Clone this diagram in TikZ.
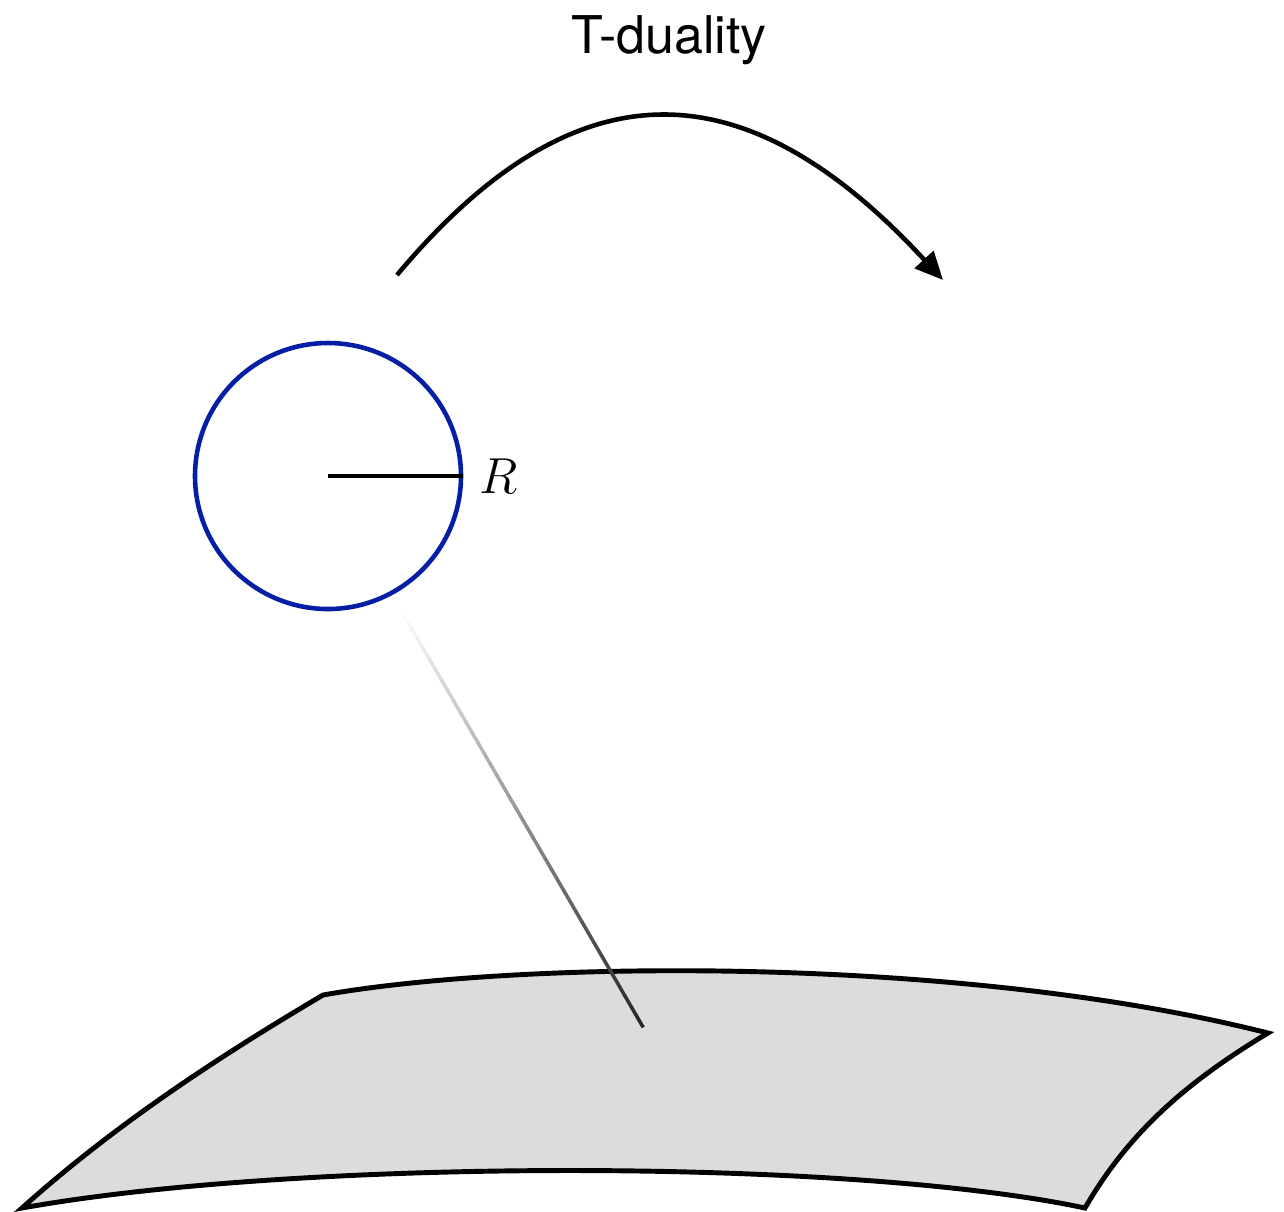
\documentclass[tikz,border=0pt]{standalone}
\usepackage{amsmath}
\usepackage{xcolor}
\usepackage{fontspec}
\setsansfont{TeX Gyre Heros}
\usepackage{tikz}
\usetikzlibrary{calc, arrows.meta, positioning}
\definecolor{ringblue}{RGB}{4,30,165}
\definecolor{sheetgray}{RGB}{220,220,220}
\tikzset{
  ring/.style={circle,draw=ringblue,line width=1.3pt,minimum size=2.66cm,inner sep=0pt},
  sheet/.style={draw=black,fill=sheetgray,line width=1.4pt,line join=miter},
  dualarrow/.style={-{Triangle[length=2.8mm,width=2.5mm]}, line width=1.3pt}
}

\begin{document}
\begin{tikzpicture}
  \useasboundingbox (0,0) rectangle (12.84,-12.11);
  \node[font=\sffamily\fontsize{14.8}{17}\selectfont, anchor=base] (title) at (6.69,-0.53) {T-duality};
  \coordinate (from) at (3.97,-2.75);
  \coordinate (to) at (9.43,-2.80);
  \draw[dualarrow] (from) .. controls (5.74,-0.635) and (7.43,-0.635) .. (to);
  % the compact circle
  \node[ring] (S) at (3.28,-4.76) {};
  \draw[line width=1.3pt] (S.center) -- (S.east);
  \node[right=0.4mm of S.east, font=\fontsize{14.5}{17}\selectfont] (R) {$R$};
  % the brane
  \coordinate (TL) at (3.23,-9.95);
  \coordinate (TR) at (12.68,-10.33);
  \coordinate (BR) at (10.85,-12.08);
  \coordinate (BL) at (0.22,-12.08);
  \draw[sheet] (TL) .. controls (5.2,-9.6) and (9.6,-9.55) .. (TR)
    .. controls (11.9,-10.8) and (11.3,-11.3) .. (BR)
    .. controls (8.5,-11.58) and (3,-11.58) .. (BL)
    .. controls (1.2,-11.2) and (2.3,-10.5) .. cycle;
  % fading string
  \coordinate (top) at (3.98,-6.05);
  \coordinate (foot) at (6.43,-10.27);
  \foreach \i in {0,...,39} {
    \pgfmathsetmacro{\shade}{\i*85/39}
    \draw[line width=1pt, color=black!\shade]
      ($(top)!\i/40!(foot)$) -- ($(top)!\i/40+0.026!(foot)$);
  }
\end{tikzpicture}
\end{document}
